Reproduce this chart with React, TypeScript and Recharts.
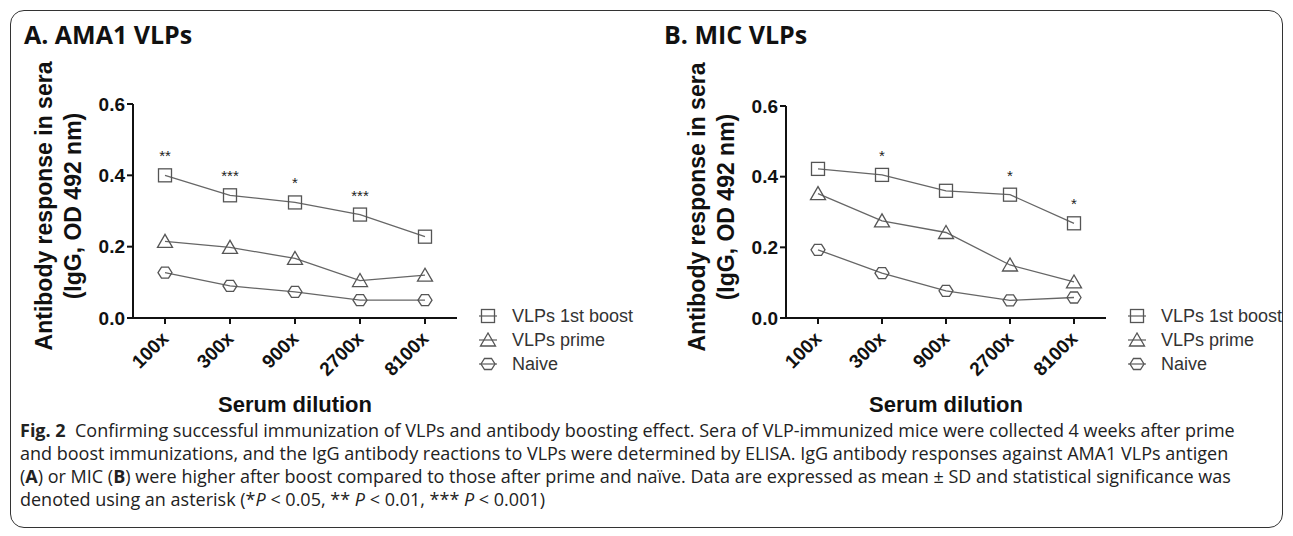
import React from "react";
import {
  LineChart,
  Line,
  XAxis,
  YAxis,
  Legend,
  LabelList,
} from "recharts";

// serum dilutions on the x axis
const dilutions = ["100x", "300x", "900x", "2700x", "8100x"];
const yTicks = [0, 0.2, 0.4, 0.6];

// A. AMA1 VLPs (OD 492 nm)
const amaBoost = [0.4, 0.344, 0.324, 0.29, 0.228];
const amaPrime = [0.215, 0.198, 0.167, 0.105, 0.12];
const amaNaive = [0.127, 0.09, 0.073, 0.05, 0.05];
const amaSig = ["**", "***", "*", "***", ""];

// B. MIC VLPs
const micBoost = [0.422, 0.405, 0.36, 0.349, 0.268];
const micPrime = [0.352, 0.275, 0.242, 0.15, 0.102];
const micNaive = [0.193, 0.127, 0.077, 0.05, 0.058];
const micSig = ["", "*", "", "*", "*"];

const seriesKeys = ["boost", "prime", "naive"];
const seriesNames: Record<string, string> = {
  boost: "VLPs 1st boost",
  prime: "VLPs prime",
  naive: "Naive",
};

const FONT = "'Liberation Sans', Arial, Helvetica, sans-serif";
const INK = "#111";
const MARK = "#555";
const LINE = "#666";

function buildRows(boost: number[], prime: number[], naive: number[], sig: string[]) {
  return dilutions.map((d, i) => ({
    d,
    boost: boost[i],
    prime: prime[i],
    naive: naive[i],
    sig: sig[i],
  }));
}

function Marker({ kind, cx, cy }: { kind: string; cx: number; cy: number }) {
  const common = { fill: "none", stroke: MARK, strokeWidth: 1.3 };
  if (kind === "boost") {
    return <rect x={cx - 6.5} y={cy - 6.5} width={13} height={13} {...common} />;
  }
  if (kind === "prime") {
    const pts = `${cx},${cy - 7} ${cx - 7.5},${cy + 6} ${cx + 7.5},${cy + 6}`;
    return <polygon points={pts} {...common} />;
  }
  const pts = [
    [cx - 7, cy],
    [cx - 3.5, cy - 5.5],
    [cx + 3.5, cy - 5.5],
    [cx + 7, cy],
    [cx + 3.5, cy + 5.5],
    [cx - 3.5, cy + 5.5],
  ]
    .map((p) => p.join(","))
    .join(" ");
  return <polygon points={pts} {...common} />;
}

const dotFor = (kind: string) => (p: any) => (
  <Marker key={`${kind}-${p.index}`} kind={kind} cx={p.cx} cy={p.cy} />
);

function DilutionTick(props: any) {
  const { x, y, payload } = props;
  return (
    <g transform={`translate(${x},${y})`}>
      <text
        transform="translate(-5,4) rotate(-45)"
        textAnchor="end"
        dy="0.72em"
        fontSize={19}
        fontWeight="bold"
        fontFamily={FONT}
        fill={INK}
      >
        {payload.value}
      </text>
    </g>
  );
}

function SigLabel(props: any) {
  const { x, y, value } = props;
  if (!value) return null;
  return (
    <text
      x={x}
      y={y - 14}
      textAnchor="middle"
      fontSize={15}
      fontFamily={FONT}
      fill="#222"
    >
      {value}
    </text>
  );
}

function LegendBox({ payload }: any) {
  const items = [...(payload || [])].sort(
    (a: any, b: any) => seriesKeys.indexOf(a.dataKey) - seriesKeys.indexOf(b.dataKey)
  );
  return (
    <div style={{ fontFamily: FONT, fontSize: 18, color: "#333" }}>
      {items.map((entry: any) => (
        <div
          key={entry.dataKey}
          style={{ display: "flex", alignItems: "center", height: 24 }}
        >
          <svg width={18} height={16} style={{ marginRight: 15 }}>
            <line x1={0} y1={8} x2={18} y2={8} stroke={LINE} strokeWidth={1.3} />
            <Marker kind={entry.dataKey} cx={9} cy={8} />
          </svg>
          <span style={{ whiteSpace: "nowrap" }}>{entry.value}</span>
        </div>
      ))}
    </div>
  );
}

interface PanelProps {
  left: number;
  width: number;
  plotLeft: number;
  plotRight: number;
  plotTop: number;
  plotBottom: number;
  rows: any[];
  title: string;
}

function Panel({ left, width, plotLeft, plotRight, plotTop, plotBottom, rows, title }: PanelProps) {
  const yAxisW = 60;
  const xAxisH = 70;
  const margin = {
    top: plotTop,
    left: plotLeft - left - yAxisW,
    right: width - (plotRight - left),
    bottom: 536 - plotBottom - xAxisH,
  };
  const axisX = plotLeft - left;
  const midY = (plotTop + plotBottom) / 2 - 5;
  return (
    <div style={{ position: "absolute", left, top: 0, width, height: 536 }}>
      <div
        style={{
          position: "absolute",
          left: 24,
          top: 21,
          fontFamily: "'Open Sans', sans-serif",
          fontWeight: 700,
          fontSize: 25,
          lineHeight: "27px",
          color: "#111",
          whiteSpace: "nowrap",
        }}
      >
        {title}
      </div>
      <div
        style={{
          position: "absolute",
          left: axisX - 74.5,
          top: midY,
          width: 0,
          height: 0,
        }}
      >
        <div
          style={{
            position: "absolute",
            left: 0,
            top: 0,
            transform: "translate(-50%, -50%) rotate(-90deg)",
            fontFamily: FONT,
            fontWeight: "bold",
            fontSize: 23,
            lineHeight: "29px",
            textAlign: "center",
            whiteSpace: "nowrap",
            color: INK,
          }}
        >
          <div>Antibody response in sera</div>
          <div>(IgG, OD 492 nm)</div>
        </div>
      </div>
      <div
        style={{
          position: "absolute",
          left: (plotLeft + plotRight) / 2 - left - 150,
          width: 300,
          top: 394,
          textAlign: "center",
          fontFamily: FONT,
          fontWeight: "bold",
          fontSize: 22,
          lineHeight: "22px",
          color: INK,
        }}
      >
        Serum dilution
      </div>
      <LineChart width={width} height={536} data={rows} margin={margin}>
        <XAxis
          dataKey="d"
          padding={{ left: 32, right: 32 }}
          height={xAxisH}
          interval={0}
          tick={<DilutionTick />}
          tickSize={6}
          axisLine={{ stroke: INK, strokeWidth: 2 }}
          tickLine={{ stroke: INK, strokeWidth: 2 }}
        />
        <YAxis
          width={yAxisW}
          domain={[0, 0.6]}
          ticks={yTicks}
          tickFormatter={(v: number) => v.toFixed(1)}
          tickSize={6}
          tick={{ fontSize: 19, fontWeight: "bold", fill: INK, fontFamily: FONT }}
          axisLine={{ stroke: INK, strokeWidth: 2 }}
          tickLine={{ stroke: INK, strokeWidth: 2 }}
        />
        <Legend
          layout="horizontal"
          verticalAlign="middle"
          align="center"
          content={<LegendBox />}
          wrapperStyle={{
            position: "absolute",
            left: plotRight - left + 22,
            top: 304,
            width: 170,
          }}
        />
        {seriesKeys.map((k) => (
          <Line
            key={k}
            dataKey={k}
            name={seriesNames[k]}
            stroke={LINE}
            strokeWidth={1.3}
            dot={dotFor(k)}
            activeDot={false}
            isAnimationActive={false}
          >
            {k === "boost" && <LabelList dataKey="sig" content={<SigLabel />} />}
          </Line>
        ))}
      </LineChart>
    </div>
  );
}

const amaRows = buildRows(amaBoost, amaPrime, amaNaive, amaSig);
const micRows = buildRows(micBoost, micPrime, micNaive, micSig);

const capStyle: React.CSSProperties = {
  position: "absolute",
  left: 20,
  whiteSpace: "nowrap",
  fontFamily: "'Open Sans', sans-serif",
  fontSize: 18,
  lineHeight: "22px",
  color: "#222",
};

export default function App() {
  return (
    <div
      style={{
        position: "absolute",
        left: 0,
        top: 0,
        width: 1293,
        height: 536,
        background: "#fff",
        overflow: "hidden",
      }}
    >
      <div
        style={{
          position: "absolute",
          left: 10,
          top: 10,
          width: 1271,
          height: 516,
          border: "1.5px solid #333",
          borderRadius: 14,
        }}
      />
      <Panel
        left={0}
        width={640}
        plotLeft={133}
        plotRight={457}
        plotTop={104}
        plotBottom={318}
        rows={amaRows}
        title="A. AMA1 VLPs"
      />
      <Panel
        left={640}
        width={653}
        plotLeft={786}
        plotRight={1106}
        plotTop={106}
        plotBottom={318}
        rows={micRows}
        title="B. MIC VLPs"
      />
      <div style={{ ...capStyle, top: 419 }}>
        <b>Fig. 2</b>&nbsp; Confirming successful immunization of VLPs and antibody boosting effect. Sera of VLP-immunized mice were collected 4 weeks after prime
      </div>
      <div style={{ ...capStyle, top: 442 }}>
        and boost immunizations, and the IgG antibody reactions to VLPs were determined by ELISA. IgG antibody responses against AMA1 VLPs antigen
      </div>
      <div style={{ ...capStyle, top: 465 }}>
        (<b>A</b>) or MIC (<b>B</b>) were higher after boost compared to those after prime and naïve. Data are expressed as mean ± SD and statistical significance was
      </div>
      <div style={{ ...capStyle, top: 488 }}>
        denoted using an asterisk (*<i>P</i> &lt; 0.05, ** <i>P</i> &lt; 0.01, *** <i>P</i> &lt; 0.001)
      </div>
    </div>
  );
}
